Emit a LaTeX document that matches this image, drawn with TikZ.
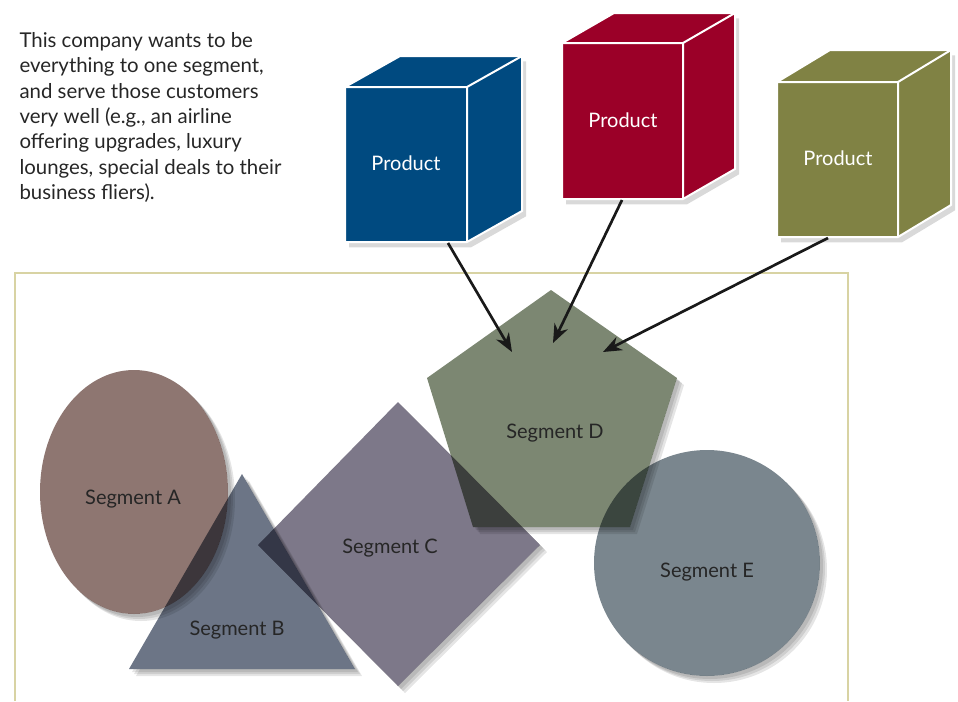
\documentclass[tikz,border=0pt]{standalone}
\usepackage{fontspec}
\setmainfont{Lato}
\usetikzlibrary{arrows.meta,shadows}

\definecolor{cubeblue}{RGB}{0,74,128}
\definecolor{cubered}{RGB}{155,0,40}
\definecolor{cubeolive}{RGB}{128,130,68}
\definecolor{segA}{RGB}{142,118,113}
\definecolor{segB}{RGB}{108,117,134}
\definecolor{segC}{RGB}{125,120,137}
\definecolor{segD}{RGB}{124,135,114}
\definecolor{segE}{RGB}{122,134,142}
\definecolor{framecol}{RGB}{216,211,163}

\tikzset{every picture/.style={line width=0.75pt}}
\tikzset{
  cubebody/.style={draw=white, line width=1.5pt, line join=miter, drop shadow={shadow xshift=3pt, shadow yshift=-4pt, opacity=0.3}},
  cubeedge/.style={draw=white, line width=1.5pt},
  softshade/.style={black, opacity=0.1},
  seglabel/.style={inner sep=0.75pt, text=black!85, font=\fontsize{15}{18}\selectfont},
  prodlabel/.style={inner sep=0.75pt, text=white, font=\fontsize{15}{18}\selectfont},
  pointer/.style={-{Stealth[length=14pt,width=11pt]}, line width=2pt, black!90},
  % outlines of the segments
  outlineA/.style={insert path={(134,492) ellipse [x radius=94, y radius=122]}},
  outlineB/.style={insert path={(242,474) -- (355,669) -- (129,669) -- cycle}},
  outlineC/.style={insert path={(398,402) -- (540,545) -- (398,686) -- (258,545) -- cycle}},
  outlineD/.style={insert path={(551,290) -- (677,378) -- (630,527) -- (473,527) -- (427,378) -- cycle}},
  outlineE/.style={insert path={(707,563) circle [radius=113]}}
}

\begin{document}
\begin{tikzpicture}[x=0.75pt,y=0.75pt,yscale=-1,xscale=1]
\useasboundingbox (0,0) rectangle (958,701);

%Shape: Frame
\draw [framecol, line width=1.5pt] (15,701) -- (15,273) -- (848,273) -- (848,701) ;

%Shape: Segments (shadow outside, then multiply fill)
\begin{scope}[blend mode=multiply]
\foreach \seg in {A,B,C,D,E} {
  \begin{scope}[even odd rule]
    \clip [outline\seg] (-20,-20) rectangle (980,720);
    \foreach \d in {3,5,7} {
      \fill [softshade, shift={(\d,\d)}, outline\seg] ;
    }
  \end{scope}
  \fill [seg\seg, outline\seg] ;
}
\end{scope}

%Shape: Blue cube
\draw [cubebody, fill=cubeblue] (345,87) -- (400,56) -- (522,56) -- (522,211) -- (467,242) -- (345,242) -- cycle ;
\draw [cubeedge] (345,87) -- (467,87) -- (467,242) (467,87) -- (522,56) ;
%Shape: Red cube
\draw [cubebody, fill=cubered] (562,43) -- (614,13) -- (735,13) -- (735,169) -- (683,199) -- (562,199) -- cycle ;
\draw [cubeedge] (562,43) -- (683,43) -- (683,199) (683,43) -- (735,13) ;
%Shape: Olive cube
\draw [cubebody, fill=cubeolive] (777,82) -- (830,50) -- (951,50) -- (951,205) -- (898,237) -- (777,237) -- cycle ;
\draw [cubeedge] (777,82) -- (898,82) -- (898,237) (898,82) -- (951,50) ;

% Text Node
\node [anchor=north west, inner sep=0.75pt, align=left, font=\fontsize{15.3}{19}\selectfont, text=black!85] (intro) at (18,31)
  {This company wants to be\\everything to one segment,\\and serve those customers\\very well (e.g., an airline\\offering upgrades, luxury\\lounges, special deals to their\\business fliers).};
% Text Node
\node [prodlabel] (prodblue) at (406,163) {Product};
\node [prodlabel] (prodred) at (623,120) {Product};
\node [prodlabel] (prodolive) at (838,158) {Product};
% Text Node
\node [seglabel] (segA) at (133,499) {Segment A};
\node [seglabel] (segB) at (237,630) {Segment B};
\node [seglabel] (segC) at (390,548) {Segment C};
\node [seglabel] (segD) at (555,433) {Segment D};
\node [seglabel] (segE) at (707,572) {Segment E};

%Arrows
\coordinate (fromblue) at (448,243);
\coordinate (fromred) at (622,200);
\coordinate (fromolive) at (828,238);
\coordinate (toblue) at (512,352);
\coordinate (tored) at (553,343);
\coordinate (toolive) at (603,352);
\draw [pointer] (fromblue) -- (toblue) ;
\draw [pointer] (fromred) -- (tored) ;
\draw [pointer] (fromolive) -- (toolive) ;

\end{tikzpicture}
\end{document}
